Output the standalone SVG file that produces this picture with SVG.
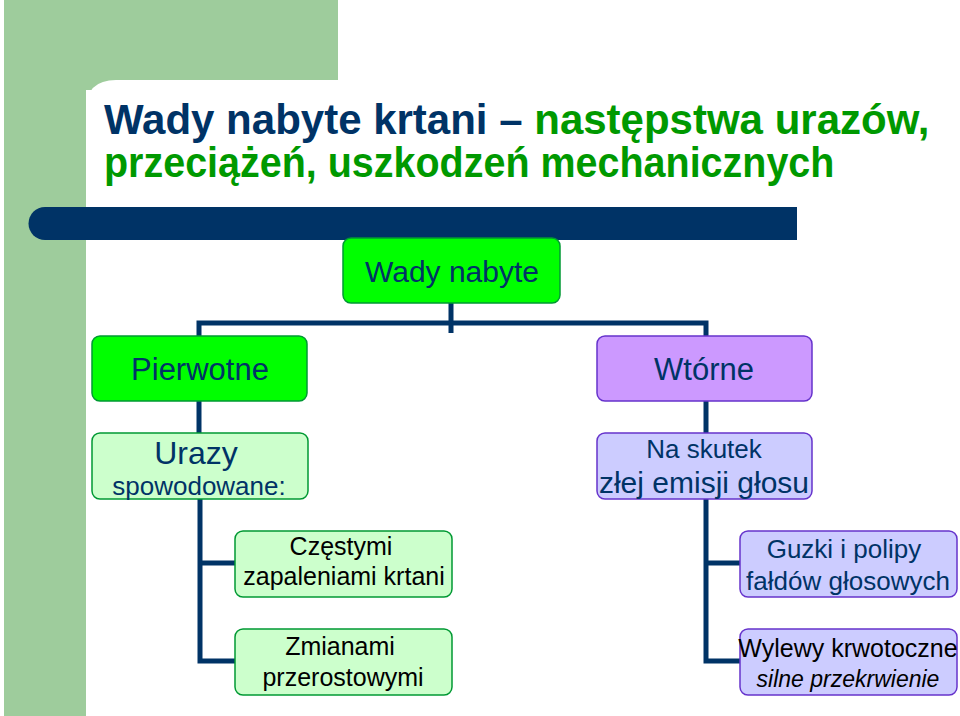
<svg xmlns="http://www.w3.org/2000/svg" width="960" height="716" viewBox="0 0 960 716">
<style>
.n{stroke-width:1.5}
.g{fill:#00ff00;stroke:#009933}
.lg{fill:#ccffcc;stroke:#009933}
.p{fill:#cc99ff;stroke:#6633cc}
.lp{fill:#ccccff;stroke:#6633cc}
text{font-family:"Liberation Sans",Arial,sans-serif;text-anchor:middle}
.t1{fill:#003366}
.t2{fill:#000}
.c{stroke:#003366;stroke-width:5;fill:none}
</style>
<rect width="960" height="716" fill="#fff"/>
<rect x="4" y="0" width="334" height="90" fill="#9ecc9c"/>
<rect x="4" y="0" width="82" height="716" fill="#9ecc9c"/>
<path d="M86 716 V110 Q86 80 116 80 H338 V80 H960 V716 Z" fill="#fff"/>
<path d="M45 207 H797 V240 H45 A16.5 16.5 0 0 1 45 207 Z" fill="#003366"/>
<text x="104" y="134" font-size="42" font-weight="bold" style="text-anchor:start" transform="translate(104 0) scale(1.0 1) translate(-104 0)"><tspan fill="#003366">Wady nabyte krtani – </tspan><tspan fill="#009900">następstwa urazów,</tspan></text>
<text x="104" y="177" font-size="42" font-weight="bold" fill="#009900" style="text-anchor:start" transform="translate(104 0) scale(0.94 1) translate(-104 0)">przeciążeń, uszkodzeń mechanicznych</text>
<g id="connectors" class="c">
<path d="M451 303 V333 M199 336 V323 H706 V336"/>
<path d="M199 401 V433"/>
<path d="M706 401 V433"/>
<path d="M200 499 V661 H235 M200 563 H235"/>
<path d="M706 499 V661 H740 M706 563 H740"/>
</g>
<g id="n1"><rect class="n g" x="343" y="238" width="217" height="65" rx="8"/><text x="452" y="282" font-size="30" class="t1">Wady nabyte</text></g>
<g id="n2"><rect class="n g" x="92" y="336" width="215" height="65" rx="8"/><text x="200" y="380" font-size="31" class="t1">Pierwotne</text></g>
<g id="n3"><rect class="n p" x="597" y="336" width="215" height="65" rx="8"/><text x="704" y="380" font-size="31" class="t1">Wtórne</text></g>
<g id="n4"><rect class="n lg" x="92" y="433" width="216" height="66" rx="8"/><text x="196" y="464" font-size="32" class="t1">Urazy</text><text x="199" y="495" font-size="26" class="t1">spowodowane:</text></g>
<g id="n5"><rect class="n lp" x="597" y="433" width="215" height="66" rx="8"/><text x="704" y="458" font-size="26" class="t1">Na skutek</text><text x="704" y="493" font-size="30" class="t1">złej emisji głosu</text></g>
<g id="n6"><rect class="n lg" x="235" y="531" width="217" height="66" rx="8"/><text x="341" y="555" font-size="25" class="t2">Częstymi</text><text x="344" y="585" font-size="25" class="t2">zapaleniami krtani</text></g>
<g id="n7"><rect class="n lg" x="235" y="629" width="217" height="66" rx="8"/><text x="340" y="655" font-size="25" class="t2">Zmianami</text><text x="343" y="686" font-size="25" class="t2">przerostowymi</text></g>
<g id="n8"><rect class="n lp" x="740" y="531" width="217" height="66" rx="8"/><text x="844" y="558" font-size="26" class="t1">Guzki i polipy</text><text x="848" y="590" font-size="26" class="t1">fałdów głosowych</text></g>
<g id="n9"><rect class="n lp" x="740" y="629" width="217" height="66" rx="8"/><text x="848" y="657" font-size="25" class="t2">Wylewy krwotoczne</text><text x="848" y="687" font-size="23" font-style="italic" class="t2">silne przekrwienie</text></g>
</svg>
